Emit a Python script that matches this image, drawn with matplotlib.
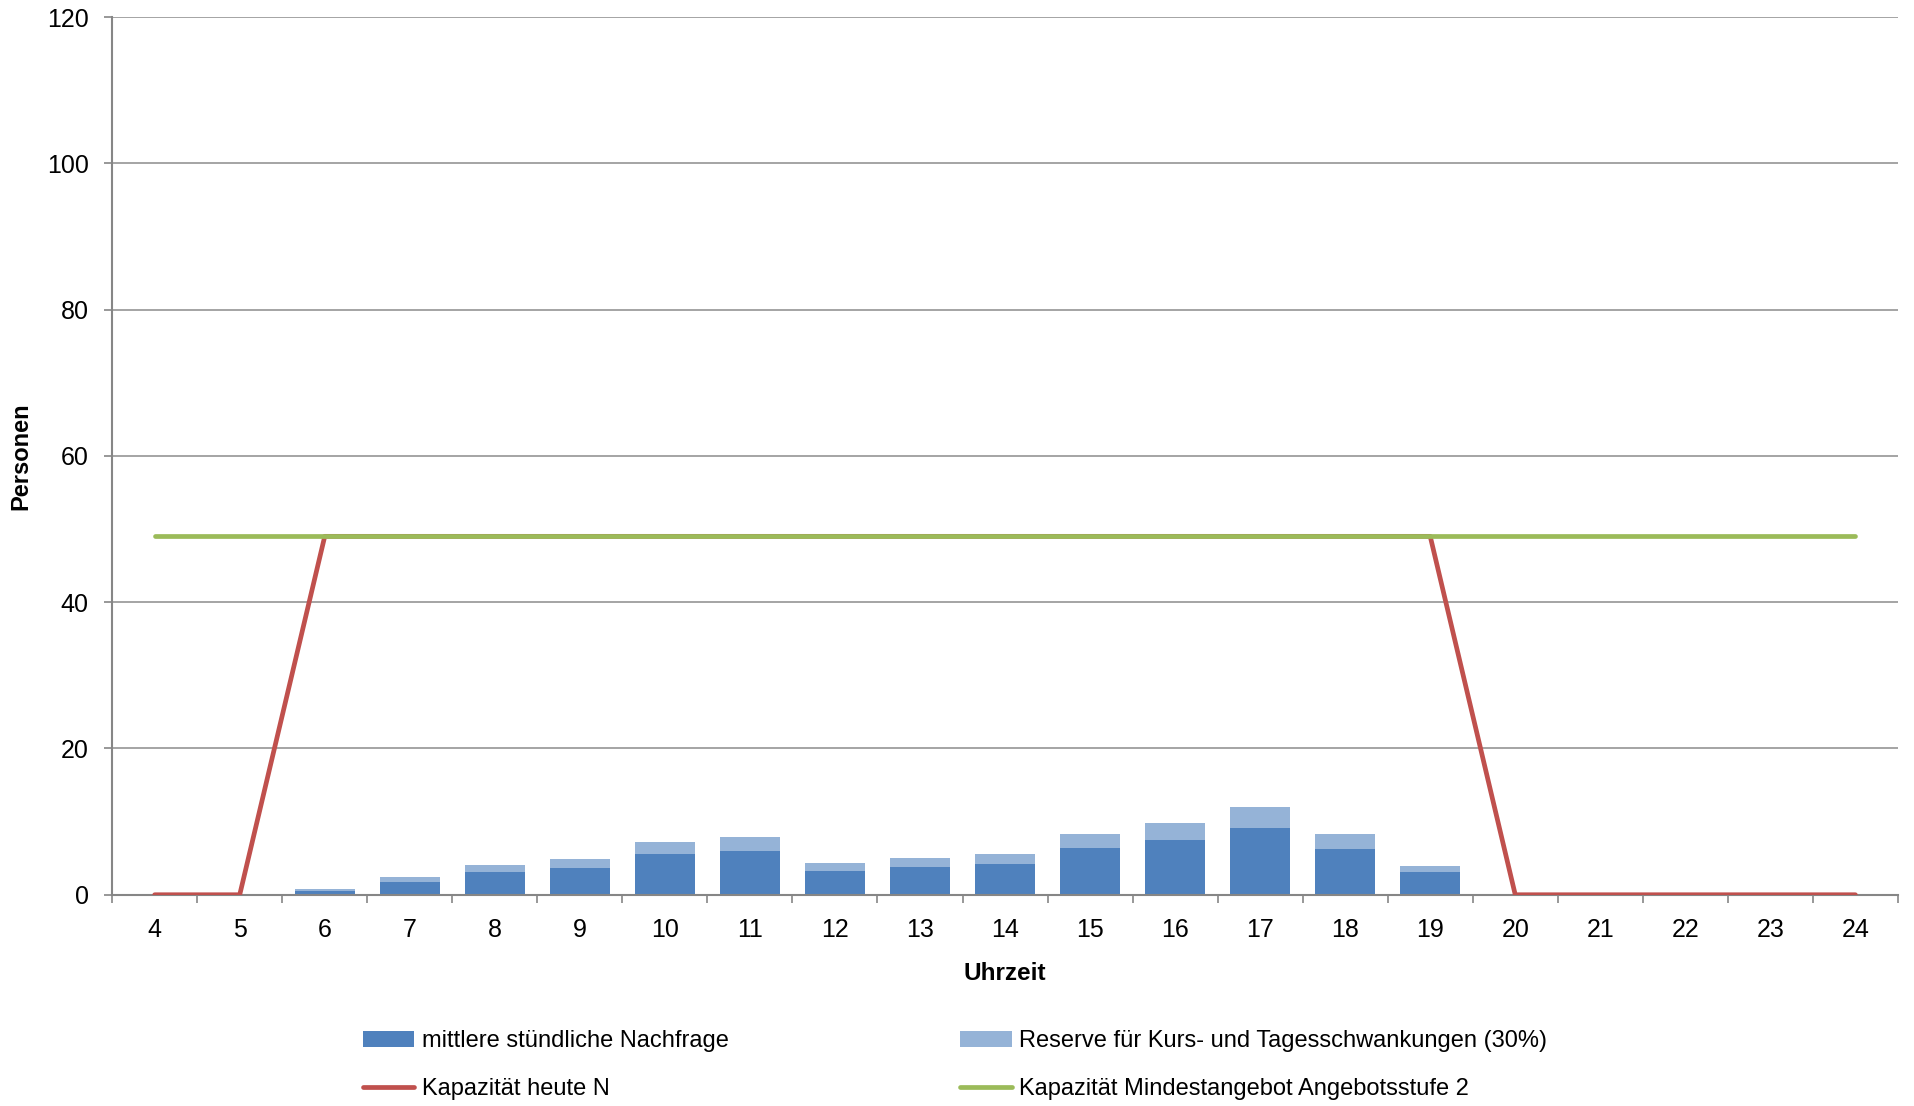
import matplotlib
matplotlib.use("Agg")
import matplotlib.pyplot as plt
import numpy as np

hours = [4, 5, 6, 7, 8, 9, 10, 11, 12, 13, 14, 15, 16, 17, 18, 19, 20, 21, 22, 23, 24]
demand = [0, 0, 0.5, 1.73, 3.1, 3.65, 5.57, 6.03, 3.24, 3.84, 4.16, 6.35, 7.53, 9.09, 6.21, 3.06, 0, 0, 0, 0, 0]
reserve = [0, 0, 0.23, 0.64, 0.96, 1.19, 1.64, 1.87, 1.05, 1.23, 1.36, 1.91, 2.33, 2.87, 2.05, 0.91, 0, 0, 0, 0, 0]
cap_today = [0, 0, 49, 49, 49, 49, 49, 49, 49, 49, 49, 49, 49, 49, 49, 49, 0, 0, 0, 0, 0]
cap_min = [49] * 21
yticks = [0, 20, 40, 60, 80, 100, 120]

labels = ["mittlere stündliche Nachfrage", "Reserve für Kurs- und Tagesschwankungen (30%)",
          "Kapazität heute N", "Kapazität Mindestangebot Angebotsstufe 2"]

plt.rcParams['font.family'] = ['Liberation Sans', 'DejaVu Sans']

fig = plt.figure(figsize=(19.14, 11.06), dpi=100)
ax = fig.add_axes([0.0586, 0.191, 0.933, 0.7936])

x = np.arange(len(hours))
b1 = ax.bar(x, demand, width=0.71, color='#4F81BD', edgecolor='none', zorder=2)
b2 = ax.bar(x, reserve, width=0.71, bottom=demand, color='#95B3D7', edgecolor='none', zorder=2)
l1, = ax.plot(x, cap_today, color='#C0504D', lw=3.4, zorder=3, solid_capstyle='round')
l2, = ax.plot(x, cap_min, color='#9BBB59', lw=3.4, zorder=4, solid_capstyle='round')

ax.set_xlim(-0.5, len(hours) - 0.5)
ax.set_ylim(0, 120)
ax.set_yticks(yticks)
ax.set_yticklabels([str(v) for v in yticks], fontsize=18)
ax.set_xticks(x)
ax.set_xticklabels([str(h) for h in hours], fontsize=18)
ax.set_xticks(np.arange(-0.5, len(hours)), minor=True)
ax.tick_params(axis='x', which='major', length=0, pad=17)
ax.tick_params(axis='x', which='minor', length=6, color='#868686', width=1.2, direction='out')
ax.tick_params(axis='y', length=6, color='#868686', width=1.2, pad=11)

ax.grid(axis='y', color='#8c8c8c', lw=1.1, zorder=0)
ax.set_axisbelow(True)
for s in ['top', 'right']:
    ax.spines[s].set_visible(False)
for s in ['left', 'bottom']:
    ax.spines[s].set_color('#868686')
    ax.spines[s].set_linewidth(1.5)

ax.set_xlabel('Uhrzeit', fontsize=17.5, fontweight='bold', labelpad=14)
ax.set_ylabel('Personen', fontsize=17, fontweight='bold')
ax.yaxis.set_label_coords(-0.0448, 0.5)

fig.legend([b1, l1, b2, l2], [labels[0], labels[2], labels[1], labels[3]],
           ncol=2, loc='center left', bbox_to_anchor=(0.1894, 0.037),
           frameon=False, fontsize=17, handlelength=2.2, handletextpad=0.3,
           columnspacing=9.8, labelspacing=1.1, borderaxespad=0, borderpad=0)

fig.savefig('out.png', dpi=100)
